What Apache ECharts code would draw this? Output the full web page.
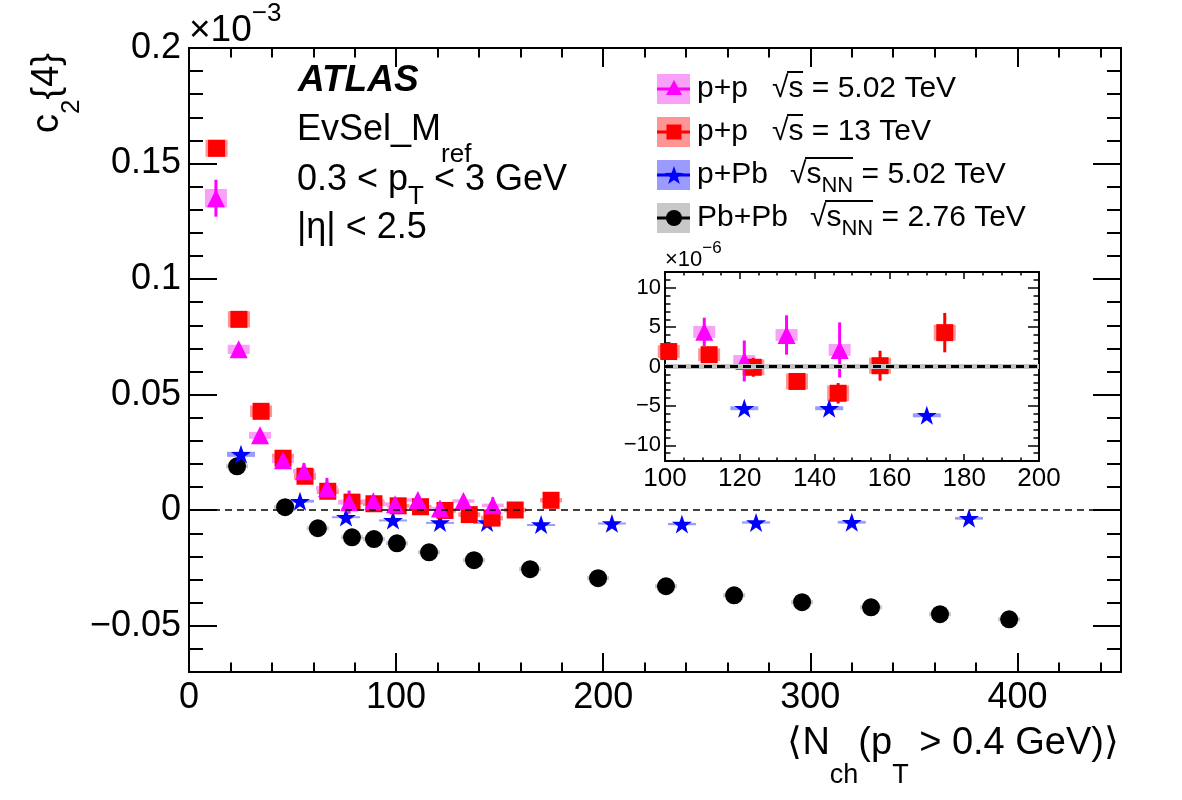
<!DOCTYPE html>
<html>
<head>
<meta charset="utf-8">
<script src="https://cdn.jsdelivr.net/npm/echarts@6/dist/echarts.min.js"></script>
<style>
  html, body { margin: 0; padding: 0; background: #fff; }
  #chart { width: 1182px; height: 800px; }
</style>
</head>
<body>
<div id="chart"></div>
<script>
// c2{4} values in units of 1e-3, x = <Nch>
// p+p 5.02 TeV
var xPP5 = [13, 24, 34.3, 45.4, 55.5, 66.6, 77.3, 89, 99.5, 110.5, 121.2, 132.5, 146.7];
var yPP5 = [0.135, 0.0696, 0.0324, 0.0216, 0.0169, 0.0095, 0.0035, 0.0039, 0.0026, 0.0044, 0.0007, 0.0040, 0.0021];
var statPP5 = [0.008, 0.0015, 0.0015, 0.0015, 0.0035, 0.0045, 0.005, 0.002, 0.002, 0.0018, 0.0026, 0.0025, 0.0035];
var sysPP5 = [0.004, 0.002, 0.0015, 0.0012, 0.001, 0.001, 0.001, 0.0009, 0.0008, 0.00075, 0.00075, 0.00075, 0.00075];
// p+p 13 TeV
var xPP13 = [13.3, 24.1, 34.8, 45.4, 56, 67, 78.7, 89.3, 101, 111.8, 123.6, 135.3, 146.3, 157.5, 174.8];
var yPP13 = [0.1566, 0.0826, 0.0428, 0.0225, 0.0147, 0.0082, 0.0035, 0.0028, 0.0019, 0.0015, -0.0001, -0.0019, -0.0034, 0.0001, 0.0043];
var statPP13 = [0.002, 0.001, 0.001, 0.001, 0.001, 0.001, 0.0008, 0.0006, 0.0005, 0.0005, 0.0012, 0.0005, 0.0013, 0.0019, 0.0025];
var sysPP13 = [0.0037, 0.0035, 0.0025, 0.002, 0.0015, 0.0012, 0.001, 0.001, 0.0008, 0.0008, 0.001, 0.001, 0.001, 0.001, 0.001];
// p+Pb 5.02 TeV
var xPPb = [25.1, 53.6, 75.8, 98.5, 121.2, 143.9, 170, 204.2, 238, 273.8, 320, 376.6];
var yPPb = [0.0242, 0.0039, -0.003, -0.0043, -0.0053, -0.0053, -0.0062, -0.0057, -0.006, -0.0053, -0.0052, -0.0035];
var statPPb = [0.0004, 0.0004, 0.0004, 0.0004, 0.0004, 0.0004, 0.0004, 0.0004, 0.0004, 0.0004, 0.0004, 0.0004];
var sysPPb = [0.0011, 0.0006, 0.0004, 0.0003, 0.00025, 0.00025, 0.00025, 0.0004, 0.0005, 0.0005, 0.0006, 0.0006];
// Pb+Pb 2.76 TeV
var xPbPb = [23.2, 46.4, 62.2, 78.7, 89.3, 100.4, 115.9, 137.6, 164.7, 197.5, 230.3, 263.2, 296, 329.3, 362.6, 396];
var yPbPb = [0.019, 0.0013, -0.0078, -0.0117, -0.0125, -0.0143, -0.0182, -0.0216, -0.0255, -0.0294, -0.0329, -0.0368, -0.0398, -0.042, -0.045, -0.0472];
var statPbPb = [0.0003, 0.0003, 0.0003, 0.0003, 0.0003, 0.0003, 0.0003, 0.0003, 0.0003, 0.0003, 0.0003, 0.0003, 0.0003, 0.0003, 0.0003, 0.0003];
var sysPbPb = [0.0009, 0.0009, 0.0009, 0.0009, 0.0009, 0.0009, 0.0009, 0.0009, 0.0009, 0.0009, 0.0009, 0.0009, 0.0009, 0.0009, 0.0009, 0.0009];

var yTicks = [-0.05, 0, 0.05, 0.1, 0.15, 0.2];
var xTicks = [0, 100, 200, 300, 400];
var insetYTicks = [-10, -5, 0, 5, 10];

var FONT = '"Liberation Sans", Arial, sans-serif';
var STAR = 'path://M50,0L61.8,35.4L99,35.4L69,57.3L80.3,92.7L50,70.8L19.7,92.7L31,57.3L1,35.4L38.2,35.4Z';

function rows(xs, ys, es, ss) {
  return xs.map(function (x, i) { return [x, ys[i], es[i], ss[i]]; });
}
function insetRows(r) {
  // inset axis is in units of 1e-6
  return r.map(function (d) { return [d[0], d[1] * 1000, d[2] * 1000, d[3] * 1000]; })
    .filter(function (d) { return d[0] >= 100 && d[0] <= 200 && Math.abs(d[1]) < 12; });
}

var sets = [
  { name: 'Pb+Pb', data: rows(xPbPb, yPbPb, statPbPb, sysPbPb), color: '#000000', box: '#c8c8c8', halfW: 11, symbol: 'circle', size: 18 },
  { name: 'p+Pb', data: rows(xPPb, yPPb, statPPb, sysPPb), color: '#0000ff', box: '#9a9aff', halfW: 14, symbol: STAR, size: 20 },
  { name: 'p+p 13', data: rows(xPP13, yPP13, statPP13, sysPP13), color: '#ff0000', box: '#ff9494', halfW: 11, symbol: 'rect', size: 17 },
  { name: 'p+p 5.02', data: rows(xPP5, yPP5, statPP5, sysPP5), color: '#ff00ff', box: '#f9a0f9', halfW: 11, symbol: 'triangle', size: 18 }
];

function boxRender(color, halfW) {
  return function (params, api) {
    var x = api.value(0), y = api.value(1), s = api.value(3);
    var p = api.coord([x, y]);
    var t = api.coord([x, y + s])[1];
    var b = api.coord([x, y - s])[1];
    return { type: 'rect', shape: { x: p[0] - halfW, y: t, width: 2 * halfW, height: Math.max(b - t, 2) }, style: { fill: color } };
  };
}
function errRender(color) {
  return function (params, api) {
    var x = api.value(0), y = api.value(1), e = api.value(2);
    var t = api.coord([x, y + e]);
    var b = api.coord([x, y - e]);
    return { type: 'line', shape: { x1: t[0], y1: t[1], x2: b[0], y2: b[1] }, style: { stroke: color, lineWidth: 3 } };
  };
}

var series = [];
// dashed zero lines
series.push({ type: 'line', xAxisIndex: 0, yAxisIndex: 0, data: [], z: 2, silent: true,
  markLine: { silent: true, symbol: 'none', label: { show: false }, animation: false,
    lineStyle: { color: '#000', width: 1.5, type: [7, 5] }, data: [{ yAxis: 0 }] } });
series.push({ type: 'line', xAxisIndex: 4, yAxisIndex: 4, data: [], z: 2, silent: true,
  markLine: { silent: true, symbol: 'none', label: { show: false }, animation: false,
    lineStyle: { color: '#c4c4c4', width: 5, type: 'solid' }, data: [{ yAxis: 0 }] } });
series.push({ type: 'line', xAxisIndex: 4, yAxisIndex: 4, data: [], z: 2, silent: true,
  markLine: { silent: true, symbol: 'none', label: { show: false }, animation: false,
    lineStyle: { color: '#000', width: 3, type: [8, 5] }, data: [{ yAxis: 0 }] } });

[[0, function (d) { return d; }], [4, insetRows]].forEach(function (g) {
  var ai = g[0];
  sets.forEach(function (s) {
    series.push({ type: 'custom', name: s.name, xAxisIndex: ai, yAxisIndex: ai, z: 1, silent: true,
      renderItem: boxRender(s.box, s.halfW), encode: { x: 0, y: 1 }, data: g[1](s.data) });
  });
  sets.forEach(function (s) {
    series.push({ type: 'custom', name: s.name, xAxisIndex: ai, yAxisIndex: ai, z: 3, silent: true,
      renderItem: errRender(s.color), encode: { x: 0, y: 1 }, data: g[1](s.data) });
  });
  sets.forEach(function (s) {
    series.push({ type: 'scatter', name: s.name, xAxisIndex: ai, yAxisIndex: ai, z: 4, silent: true,
      symbol: s.symbol, symbolSize: s.size, symbolKeepAspect: true,
      itemStyle: { color: s.color, opacity: 1 }, encode: { x: 0, y: 1 }, data: g[1](s.data) });
  });
});

function ax(gi, pos, min, max, extra) {
  var a = {
    type: 'value', gridIndex: gi, position: pos, min: min, max: max,
    splitLine: { show: false },
    axisLine: { show: false, onZero: false },
    axisLabel: { show: false },
    axisTick: { show: false }
  };
  for (var k in extra) a[k] = extra[k];
  return a;
}
var blackLine = { show: true, onZero: false, lineStyle: { color: '#000', width: 2 } };
function ticks(len, vals, w) {
  var t = { show: true, inside: true, length: len, lineStyle: { color: '#000', width: w || 2 } };
  if (vals) t.customValues = vals;
  return t;
}
function minus(v) { return v < 0 ? '\u2212' + Math.abs(v) : String(v); }

var xAxes = [
  ax(0, 'bottom', 0, 450, { axisLine: blackLine, axisTick: ticks(19, xTicks),
    axisLabel: { show: true, customValues: xTicks, fontSize: 36, fontFamily: FONT, color: '#000', margin: 8 } }),
  ax(0, 'top', 0, 450, { axisLine: blackLine, axisTick: ticks(19, xTicks) }),
  ax(1, 'bottom', 0, 450, { interval: 20, axisTick: ticks(9.5) }),
  ax(1, 'top', 0, 450, { interval: 20, axisTick: ticks(9.5) }),
  ax(2, 'bottom', 100, 200, { interval: 20, axisLine: blackLine, axisTick: ticks(7, null, 1.5),
    axisLabel: { show: true, fontSize: 26, fontFamily: FONT, color: '#000', margin: 5 } }),
  ax(2, 'top', 100, 200, { interval: 20, axisLine: blackLine, axisTick: ticks(7, null, 1.5) }),
  ax(3, 'bottom', 100, 200, { interval: 5, axisTick: ticks(3.5, null, 1.5) }),
  ax(3, 'top', 100, 200, { interval: 5, axisTick: ticks(3.5, null, 1.5) })
];
var yAxes = [
  ax(0, 'left', -0.07, 0.2, { axisLine: blackLine, axisTick: ticks(28, yTicks),
    axisLabel: { show: true, customValues: yTicks, fontSize: 36, fontFamily: FONT, color: '#000', margin: 8, formatter: minus } }),
  ax(0, 'right', -0.07, 0.2, { axisLine: blackLine, axisTick: ticks(28, yTicks) }),
  ax(1, 'left', -0.07, 0.2, { interval: 0.01, axisTick: ticks(14) }),
  ax(1, 'right', -0.07, 0.2, { interval: 0.01, axisTick: ticks(14) }),
  ax(2, 'left', -12, 12, { axisLine: blackLine, axisTick: ticks(11, insetYTicks, 1.5),
    axisLabel: { show: true, customValues: insetYTicks, fontSize: 22, fontFamily: FONT, color: '#000', margin: 4, formatter: minus } }),
  ax(2, 'right', -12, 12, { axisLine: blackLine, axisTick: ticks(11, insetYTicks, 1.5) }),
  ax(3, 'left', -12, 12, { interval: 1, axisTick: ticks(5.5, null, 1.5) }),
  ax(3, 'right', -12, 12, { interval: 1, axisTick: ticks(5.5, null, 1.5) })
];

// text helpers (pixel placement of annotations)
function txt(x, y, text, size, extra) {
  var st = { text: text, fontSize: size, fontFamily: FONT, fill: '#000', align: 'left', verticalAlign: 'middle' };
  for (var k in extra) st[k] = extra[k];
  return { type: 'text', x: x, y: y, z: 20, style: st };
}
function subRich(size) {
  return { sub: { fontSize: size, fontFamily: FONT, fill: '#000', lineHeight: size, verticalAlign: 'bottom' },
           sup: { fontSize: size, fontFamily: FONT, fill: '#000', lineHeight: size, verticalAlign: 'top' } };
}
function rot(x, y, text, size) {
  return { type: 'text', x: x, y: y, rotation: Math.PI / 2, z: 20,
    style: { text: text, fontSize: size, fontFamily: FONT, fill: '#000', align: 'left', verticalAlign: 'middle' } };
}
function starPts(cx, cy, r) {
  var p = [];
  for (var i = 0; i < 10; i++) {
    var rr = i % 2 ? r * 0.4 : r;
    var a = -Math.PI / 2 + i * Math.PI / 5;
    p.push([cx + rr * Math.cos(a), cy + rr * Math.sin(a)]);
  }
  return p;
}

var legendRows = [
  { y: 89, box: '#f9a0f9', color: '#ff00ff', mark: 'triangle', name: 'p+p', ex: 772, energy: '\u221As = 5.02 TeV', bar: 16 },
  { y: 132, box: '#ff9494', color: '#ff0000', mark: 'rect', name: 'p+p', ex: 772, energy: '\u221As = 13 TeV', bar: 16 },
  { y: 175, box: '#9a9aff', color: '#0000ff', mark: 'star', name: 'p+Pb', ex: 790, energy: '\u221As{sub|NN} = 5.02 TeV', bar: 48 },
  { y: 218, box: '#c8c8c8', color: '#000000', mark: 'circle', name: 'Pb+Pb', ex: 810, energy: '\u221As{sub|NN} = 2.76 TeV', bar: 48 }
];

var graphics = [];
graphics.push(txt(189, 31, '\u00D710{sup|\u22123}', 37, { lineHeight: 60, rich: subRich(26) }));
graphics.push(txt(298, 81, 'ATLAS', 37, { fontWeight: 'bold', fontStyle: 'italic' }));
graphics.push(txt(297, 130, 'EvSel_M{sub|ref}', 36, { lineHeight: 76, rich: subRich(26) }));
graphics.push(txt(297, 180, '0.3 < p{sub|T} < 3 GeV', 36, { lineHeight: 60, rich: subRich(26) }));
graphics.push(txt(297, 228, '|\u03B7| < 2.5', 36));
// y title c2{4}, reading bottom to top
graphics.push(rot(48, 133, 'c', 38));
graphics.push(rot(72, 114, '2', 26));
graphics.push(rot(48, 99.5, '{4}', 38));
graphics.push(txt(1119, 744, '\u27E8N{sub|ch}(p{sub|T} > 0.4 GeV)\u27E9', 38, { align: 'right', lineHeight: 91, rich: subRich(27) }));
graphics.push(txt(665, 260, '\u00D710{sup|\u22126}', 22, { lineHeight: 40, rich: subRich(17) }));

legendRows.forEach(function (r) {
  graphics.push({ type: 'rect', z: 18, shape: { x: 657, y: r.y - 15, width: 33, height: 30 }, style: { fill: r.box } });
  graphics.push({ type: 'line', z: 19, shape: { x1: 657, y1: r.y, x2: 690, y2: r.y }, style: { stroke: r.color, lineWidth: 3 } });
  var cx = 674, m;
  if (r.mark === 'triangle') m = { type: 'polygon', shape: { points: [[cx, r.y - 9], [cx - 8, r.y + 6], [cx + 8, r.y + 6]] } };
  else if (r.mark === 'rect') m = { type: 'rect', shape: { x: cx - 7.5, y: r.y - 7.5, width: 15, height: 15 } };
  else if (r.mark === 'star') m = { type: 'polygon', shape: { points: starPts(cx, r.y + 1, 10) } };
  else m = { type: 'circle', shape: { cx: cx, cy: r.y, r: 8 } };
  m.z = 19; m.style = { fill: r.color };
  graphics.push(m);
  graphics.push(txt(697, r.y, r.name, 30));
  graphics.push(txt(r.ex, r.y, r.energy, 30, { lineHeight: 44, rich: subRich(22) }));
  // radical overbar
  graphics.push({ type: 'line', z: 20, shape: { x1: r.ex + 15, y1: r.y - 17, x2: r.ex + 15 + r.bar, y2: r.y - 17 },
    style: { stroke: '#000', lineWidth: 2 } });
});

var chart = echarts.init(document.getElementById('chart'), null, { renderer: 'canvas' });
chart.setOption({
  animation: false,
  backgroundColor: '#ffffff',
  grid: [
    { left: 189, top: 48, width: 932, height: 624, show: false },
    { left: 189, top: 48, width: 932, height: 624, show: false },
    { left: 665, top: 272, width: 374, height: 189, show: true, backgroundColor: '#ffffff', borderWidth: 0 },
    { left: 665, top: 272, width: 374, height: 189, show: false }
  ],
  xAxis: xAxes,
  yAxis: yAxes,
  series: series,
  graphic: graphics
});
</script>
</body>
</html>
